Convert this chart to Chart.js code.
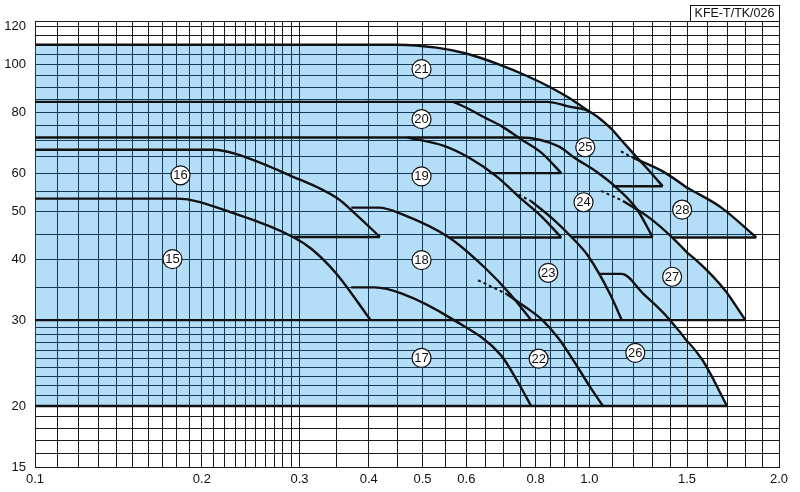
<!DOCTYPE html>
<html>
<head>
<meta charset="utf-8">
<script src="https://cdn.jsdelivr.net/npm/chart.js@4.4.0/dist/chart.umd.min.js"></script>
<style>
  html, body { margin: 0; padding: 0; background: #fff; }
  .wrap { position: relative; width: 800px; height: 492px; }
  canvas { position: absolute; top: 0; }
  #main { left: 0; z-index: 2; }
  #tail { left: 680px; z-index: 1; }
</style>
</head>
<body>
<div class="wrap">
  <canvas id="tail" width="120" height="492"></canvas>
  <canvas id="main" width="800" height="492"></canvas>
</div>
<script>
// axis ticks (Q in m3/min, H in m)
// the printed Q axis is logarithmic up to 1.5 and drawn wider from 1.5 to 2.0,
// so it is built from two log scales that meet at 1.5
const xLabels = [0.1, 0.2, 0.3, 0.4, 0.5, 0.6, 0.8, 1.0, 1.5, 2.0];
const yLabels = [15, 20, 30, 40, 50, 60, 80, 100, 120];
const xGridMain = [0.1, 0.11, 0.12, 0.13, 0.14, 0.15, 0.16, 0.17, 0.18, 0.19,
  0.2, 0.21, 0.22, 0.23, 0.24, 0.25, 0.26, 0.27, 0.28, 0.29,
  0.3, 0.35, 0.4, 0.45, 0.5, 0.55, 0.6, 0.65, 0.7, 0.75, 0.8, 0.85, 0.9, 0.95,
  1.0, 1.1, 1.2, 1.3, 1.4, 1.5];
const xGridTail = [1.5, 1.6, 1.7, 1.8, 1.9, 2.0];
const yGrid = [15, 16, 17, 18, 19, 20, 21, 22, 23, 24, 25, 26, 27, 28, 29, 30,
  35, 40, 45, 50, 55, 60, 65, 70, 75, 80, 85, 90, 95, 100, 105, 110, 115, 120, 123];

// pump curves [Q, H]
const pump15 = [[0.1, 53.2], [0.18, 53.2], [0.23, 49.5], [0.292, 44.4], [0.315, 42], [0.35, 37.3], [0.403, 30]];
const pump16 = [[0.1, 67], [0.21, 67], [0.23, 65.7], [0.288, 59.4], [0.35, 53.4], [0.38, 49.3], [0.419, 44.4]];
const bottom16 = [[0.292, 44.4], [0.419, 44.4]];
const pump17 = [[0.372, 35], [0.41, 35], [0.459, 34], [0.567, 30.1], [0.693, 25.4], [0.743, 22.4], [0.785, 20]];
const pump18 = [[0.372, 51], [0.417, 51], [0.46, 49.4], [0.56, 44.2], [0.648, 38.4], [0.72, 33.9], [0.785, 30]];
const pump19 = [[0.47, 71], [0.545, 68.3], [0.607, 64.5], [0.68, 59.1], [0.75, 53.4], [0.82, 48.9], [0.89, 44.3]];
const bottom19 = [[0.56, 44.3], [0.89, 44.3]];
const pump20 = [[0.568, 84], [0.6, 81.7], [0.647, 78], [0.693, 75], [0.75, 70.6], [0.82, 66], [0.89, 60]];
const bottom20 = [[0.66, 60], [0.89, 60]];
const pump21 = [[0.1, 110], [0.45, 110], [0.53, 108.5], [0.6, 105.5], [0.69, 100], [0.77, 95], [0.85, 90], [0.92, 85.5], [0.995, 80.5]];
const pump22 = [[0.71, 33.9], [0.77, 31.8], [0.82, 30.1], [0.88, 27.5], [0.94, 24.6], [1.0, 22], [1.058, 20]];
const hidden22 = [[0.63, 36.2], [0.71, 33.9]];
const pump23 = [[0.785, 52.6], [0.86, 48.3], [0.93, 44.3], [0.995, 40.6], [1.09, 33.9], [1.144, 30]];
const hidden23 = [[0.745, 54.2], [0.785, 52.6]];
const pump24 = [[0.1, 71], [0.75, 71], [0.88, 68.1], [0.94, 64.5], [1.03, 60.4], [1.12, 56], [1.22, 50.5], [1.3, 44.4]];
const bottom24 = [[0.93, 44.4], [1.3, 44.4]];
const pump25 = [[0.1, 84], [0.84, 84], [0.92, 82.1], [0.995, 80.5], [1.09, 74.4], [1.15, 69.5], [1.22, 64.5], [1.29, 60.2], [1.356, 56.4]];
const bottom25 = [[1.1, 56.4], [1.356, 56.4]];
const pump26 = [[1.045, 37.3], [1.144, 37.3], [1.25, 34], [1.39, 30.2], [1.57, 25], [1.7, 20]];
const pump27 = [[1.15, 52.6], [1.28, 48.7], [1.41, 44.3], [1.57, 38.9], [1.69, 34.5], [1.8, 30]];
const hidden27 = [[1.05, 55.2], [1.15, 52.6]];
const pump28 = [[1.2, 64.5], [1.356, 60.5], [1.53, 55.1], [1.67, 51], [1.863, 44.3]];
const hidden28 = [[1.14, 66.5], [1.2, 64.5]];
const bottom28 = [[1.41, 44.3], [1.863, 44.3]];
const limit30 = [[0.1, 30], [1.8, 30]];
const limit20 = [[0.1, 20], [1.7, 20]];

// outline of the shaded selection range
const blueArea = [[0.1, 110], [0.45, 110], [0.53, 108.5], [0.6, 105.5], [0.69, 100], [0.77, 95], [0.85, 90],
  [0.92, 85.5], [0.995, 80.5], [1.09, 74.4], [1.15, 69.5], [1.2, 65.2], [1.356, 60.5], [1.53, 55.1], [1.67, 51],
  [1.863, 44.3], [1.41, 44.3], [1.57, 38.9], [1.69, 34.5], [1.8, 30], [1.39, 30.2], [1.57, 25], [1.7, 20], [0.1, 20]];

// model number markers
const pumpNo = ['15', '16', '17', '18', '19', '20', '21', '22', '23', '24', '25', '26', '27', '28'];
const labelQ = [0.177, 0.183, 0.498, 0.498, 0.498, 0.498, 0.498, 0.81, 0.843, 0.976, 0.983, 1.21, 1.41, 1.47];
const labelH = [40, 59.4, 25.1, 39.8, 59.1, 77.4, 98, 25, 37.5, 52.3, 67.8, 25.7, 36.8, 50.5];

const FONT = '"Liberation Sans", Arial, Helvetica, sans-serif';
const INK = '#111';
const GRID = '#1a1a1a';
const toXY = (pts) => pts.map(([x, y]) => ({ x, y }));

const curve = (pts) => ({
  data: toXY(pts),
  borderColor: INK,
  borderWidth: 2.4,
  pointRadius: 0,
  fill: false,
  cubicInterpolationMode: 'monotone',
  order: 5
});
const straight = (pts) => ({ ...curve(pts), cubicInterpolationMode: 'default' });
const dashed = (pts) => ({ ...straight(pts), borderWidth: 2, borderDash: [3, 3] });

const buildLines = () => [
  {
    data: toXY(blueArea),
    borderWidth: 0,
    pointRadius: 0,
    backgroundColor: 'rgba(0, 139, 228, 0.294)',
    fill: 'shape',
    order: 10
  },
  straight(limit20), straight(limit30),
  curve(pump15), curve(pump16), straight(bottom16), curve(pump17), curve(pump18),
  curve(pump19), straight(bottom19), curve(pump20), straight(bottom20), curve(pump21),
  curve(pump22), dashed(hidden22), curve(pump23), dashed(hidden23),
  curve(pump24), straight(bottom24), curve(pump25), straight(bottom25),
  curve(pump26), curve(pump27), dashed(hidden27), curve(pump28), dashed(hidden28), straight(bottom28)
];

const markers = {
  data: labelQ.map((q, i) => ({ x: q, y: labelH[i] })),
  showLine: false,
  pointRadius: 9.5,
  pointBackgroundColor: '#fff',
  pointBorderColor: INK,
  pointBorderWidth: 1.2,
  clip: 12,
  order: 1
};

// numbers inside the circles, placed on the marker points
const markerText = {
  id: 'markerText',
  afterDatasetsDraw(chart) {
    const ctx = chart.ctx;
    const idx = chart.data.datasets.indexOf(chart.data.datasets.find((d) => d.pointRadius === 9.5));
    const meta = chart.getDatasetMeta(idx);
    ctx.save();
    ctx.font = '13px "Liberation Sans Narrow", "Arial Narrow", ' + FONT;
    ctx.fillStyle = INK;
    ctx.textAlign = 'center';
    ctx.textBaseline = 'middle';
    meta.data.forEach((pt, i) => ctx.fillText(pumpNo[i], pt.x, pt.y + 0.5));
    ctx.restore();
  }
};

// drawing number box in the top right corner
const codeBox = {
  id: 'codeBox',
  afterDraw(chart) {
    const { ctx, chartArea } = chart;
    const w = 89, h = 16;
    const x = chartArea.right - w, y = chartArea.top - h;
    ctx.save();
    ctx.strokeStyle = INK;
    ctx.lineWidth = 1;
    ctx.strokeRect(x + 0.5, y + 0.5, w, h);
    ctx.font = '12.5px ' + FONT;
    ctx.fillStyle = INK;
    ctx.textAlign = 'center';
    ctx.textBaseline = 'middle';
    ctx.fillText('KFE-T/TK/026', x + w / 2, y + h / 2 + 1);
    ctx.restore();
  }
};

const makeChart = (id, cfg) => new Chart(document.getElementById(id), {
  type: 'line',
  data: { datasets: cfg.datasets },
  options: {
    responsive: false,
    animation: false,
    layout: { padding: cfg.padding },
    plugins: { legend: { display: false }, tooltip: { enabled: false } },
    scales: {
      x: {
        type: 'logarithmic',
        min: cfg.xMin,
        max: cfg.xMax,
        afterBuildTicks: (s) => { s.ticks = cfg.xGrid.map((v) => ({ value: v })); },
        afterFit: (s) => { s.height = 25; },
        grid: { color: GRID, lineWidth: 1, drawTicks: false },
        border: { color: GRID, width: 1 },
        ticks: {
          autoSkip: false,
          maxRotation: 0,
          padding: 5,
          color: INK,
          font: { family: FONT, size: 13 },
          callback: (v) => (cfg.xShown.includes(v) ? v.toFixed(1) : '')
        }
      },
      y: {
        type: 'logarithmic',
        min: 15,
        max: 123,
        afterBuildTicks: (s) => { s.ticks = yGrid.map((v) => ({ value: v })); },
        afterFit: (s) => { s.width = cfg.yWidth; },
        grid: { color: GRID, lineWidth: 1, drawTicks: false },
        border: { display: cfg.yWidth > 0, color: GRID, width: 1 },
        ticks: {
          display: cfg.yWidth > 0,
          autoSkip: false,
          padding: 9,
          color: INK,
          font: { family: FONT, size: 13 },
          callback: (v) => (yLabels.includes(v) ? String(v) : '')
        }
      }
    }
  },
  plugins: cfg.plugins
});

// 1.5 .. 2.0 strip, underneath
makeChart('tail', {
  datasets: buildLines(),
  padding: { top: 21, right: 21, left: 7, bottom: 0 },
  xMin: 1.5, xMax: 2.0, xGrid: xGridTail,
  xShown: xLabels.filter((v) => v > 1.5),
  yWidth: 0,
  plugins: [codeBox]
});

// 0.1 .. 1.5 main part, on top
makeChart('main', {
  datasets: [...buildLines(), markers],
  padding: { top: 21, right: 113, left: 0, bottom: 0 },
  xMin: 0.1, xMax: 1.5, xGrid: xGridMain,
  xShown: xLabels.filter((v) => v <= 1.5),
  yWidth: 35,
  plugins: [markerText]
});
</script>
</body>
</html>
